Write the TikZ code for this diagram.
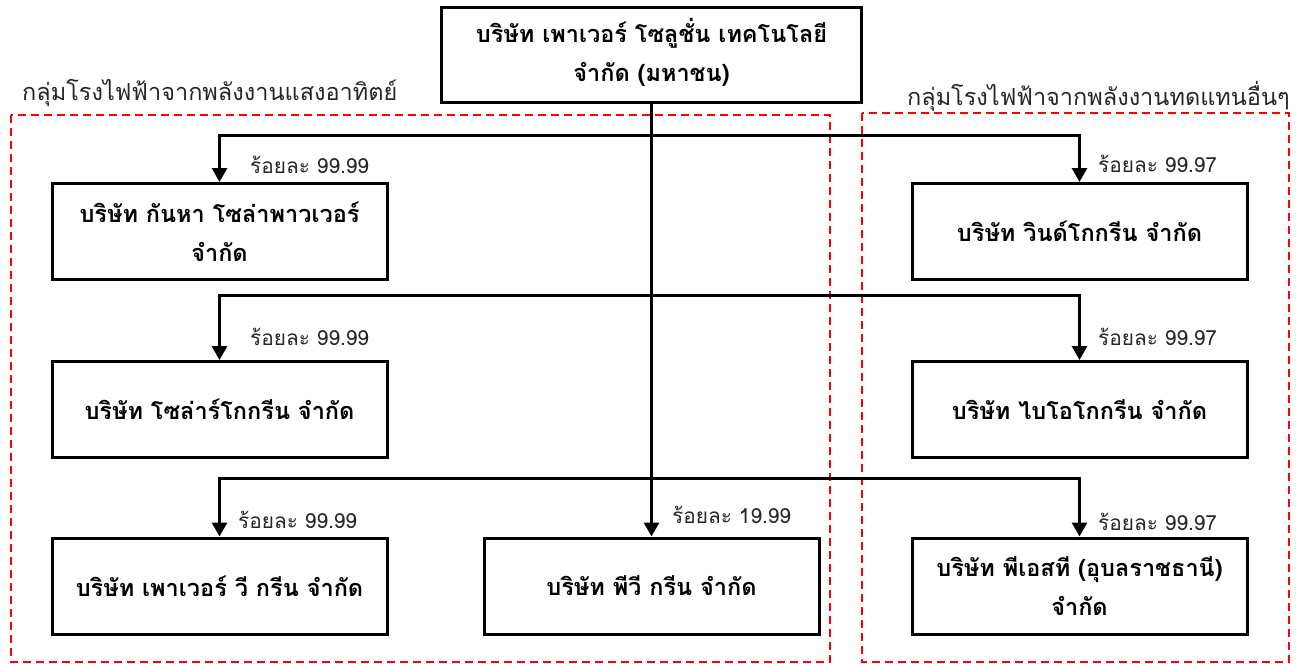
\documentclass[tikz,border=0pt]{standalone}
\usepackage{fontspec}
\setmainfont[Script=Thai]{Loma}
\usetikzlibrary{arrows.meta}
\begin{document}
\begin{tikzpicture}[x=1pt,y=-1pt,
  box/.style={draw,line width=3pt,minimum width=335pt,minimum height=96pt,align=center,inner sep=0pt,
    font=\bfseries\fontsize{23.5}{39}\selectfont},
  pct/.style={anchor=west,inner sep=0pt,font=\fontsize{20.8}{24}\selectfont,text=black!85},
  grplbl/.style={inner sep=0pt,font=\fontsize{23.5}{28}\selectfont,text=black!85},
  grp/.style={draw=red,line width=2pt,dash pattern=on 8pt off 5pt},
  arr/.style={line width=3pt,-{Triangle[length=14pt,width=15pt]}}]
\useasboundingbox (0,0) rectangle (1302,664);
% group frames
\draw[grp] (11,115) rectangle (830,662);
\draw[grp] (862,113) rectangle (1289,662);
\node[grplbl,anchor=west] (gl) at (22,93) {กลุ่มโรงไฟฟ้าจากพลังงานแสงอาทิตย์};
\node[grplbl,anchor=east] (gr) at (1290,96) {กลุ่มโรงไฟฟ้าจากพลังงานทดแทนอื่นๆ};
% boxes
\node[box,minimum width=420pt,minimum height=95pt] (top) at (651.5,54.5) {\raisebox{-4pt}{\begin{tabular}{@{}c@{}}บริษัท เพาเวอร์ โซลูชั่น เทคโนโลยี\\[0pt]จำกัด (มหาชน)\end{tabular}}};
\node[box] (kanha) at (219.5,231.5) {บริษัท กันหา โซล่าพาวเวอร์\\จำกัด};
\node[box] (wind) at (1079.5,231.5) {บริษัท วินด์โกกรีน จำกัด};
\node[box] (solar) at (219.5,409.5) {บริษัท โซล่าร์โกกรีน จำกัด};
\node[box] (bio) at (1079.5,409.5) {บริษัท ไบโอโกกรีน จำกัด};
\node[box] (pvg) at (219.5,586) {บริษัท เพาเวอร์ วี กรีน จำกัด};
\node[box] (pv) at (651.5,586) {บริษัท พีวี กรีน จำกัด};
\node[box] (pst) at (1079.5,586) {บริษัท พีเอสที (อุบลราชธานี)\\จำกัด};
% junctions on the trunk
\coordinate (j1) at (651.5,135.5);
\coordinate (j2) at (651.5,295.5);
\coordinate (j3) at (651.5,478.5);
% connectors
\draw[arr] (top.south) -- (pv.north);
\draw[arr] (j1) -| (kanha.north);
\draw[arr] (j1) -| (wind.north);
\draw[arr] (j2) -| (solar.north);
\draw[arr] (j2) -| (bio.north);
\draw[arr] (j3) -| (pvg.north);
\draw[arr] (j3) -| (pst.north);
% percentages
\node[pct] (p1) at (250,165) {ร้อยละ 99.99};
\node[pct] (p2) at (1098,164) {ร้อยละ 99.97};
\node[pct] (p3) at (250,337) {ร้อยละ 99.99};
\node[pct] (p4) at (1098,337) {ร้อยละ 99.97};
\node[pct] (p5) at (238,520) {ร้อยละ 99.99};
\node[pct] (p6) at (672,515) {ร้อยละ 19.99};
\node[pct] (p7) at (1098,522) {ร้อยละ 99.97};
\end{tikzpicture}
\end{document}
